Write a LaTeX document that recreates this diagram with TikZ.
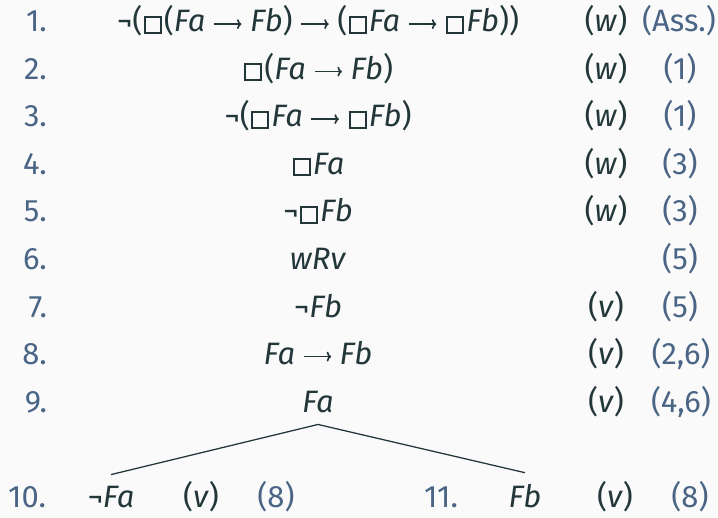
\documentclass[tikz,border=0pt]{standalone}
\usepackage{fontspec}
\setmainfont{Fira Sans}
\usepackage{tikz}
\usetikzlibrary{positioning,calc,arrows.meta}
\usepackage{xcolor}

\definecolor{bgcol}{HTML}{FAFAFA}
\definecolor{txtcol}{HTML}{23373B}
\definecolor{numcol}{HTML}{4A6585}

% necessity box and implication arrow
\newcommand{\bx}{\kern1pt{\setlength{\fboxsep}{0pt}\setlength{\fboxrule}{1.3pt}\fbox{\rule{0pt}{10.2pt}\rule{10.2pt}{0pt}}}\kern1.5pt}
\newcommand{\imp}{\hspace{5.5pt}\tikz[x=1pt,y=1pt,baseline=0pt]\draw[txtcol,line width=1.2pt,-{To[length=3.2pt,width=7pt]}] (0,5.6)--(19.5,5.6);\hspace{5.5pt}}
\newcommand{\nt}{¬}
\newcommand{\wld}[1]{(\textit{#1})}

\tikzset{
  lnum/.style={anchor=base east, text=numcol, inner sep=2pt},
  fml/.style={anchor=base, text=txtcol, inner sep=2pt},
  wrl/.style={anchor=base, text=txtcol, inner sep=2pt},
  just/.style={anchor=base, text=numcol, inner sep=2pt},
  branch/.style={draw=txtcol, line width=0.9pt}
}

\begin{document}
\begin{tikzpicture}[x=0.025cm, y=-0.025cm, font=\fontsize{22}{26}\selectfont]
  \fill[bgcol] (0,0) rectangle (718,518);
  \useasboundingbox (0,0) rectangle (718,518);
  % trunk
  \node[lnum] (n1) at (50,32) {1.};
  \node[fml] (f1) at (318,32) {\nt(\bx(\textit{Fa}\imp\textit{Fb})\imp(\bx\textit{Fa}\imp\bx\textit{Fb}))};
  \node[wrl] (w1) at (606,32) {\wld{w}};
  \node[just] (j1) at (679,32) {(Ass.)};
  \node[lnum] (n2) at (50,79.5) {2.};
  \node[fml] (f2) at (318,79.5) {\bx(\textit{Fa}\imp\textit{Fb})};
  \node[wrl] (w2) at (606,79.5) {\wld{w}};
  \node[just] (j2) at (680,79.5) {(1)};
  \node[lnum] (n3) at (50,127) {3.};
  \node[fml] (f3) at (318,127) {\nt(\bx\textit{Fa}\imp\bx\textit{Fb})};
  \node[wrl] (w3) at (606,127) {\wld{w}};
  \node[just] (j3) at (680,127) {(1)};
  \node[lnum] (n4) at (50,174.5) {4.};
  \node[fml] (f4) at (318,174.5) {\bx\textit{Fa}};
  \node[wrl] (w4) at (606,174.5) {\wld{w}};
  \node[just] (j4) at (680,174.5) {(3)};
  \node[lnum] (n5) at (50,222) {5.};
  \node[fml] (f5) at (318,222) {\nt\bx\textit{Fb}};
  \node[wrl] (w5) at (606,222) {\wld{w}};
  \node[just] (j5) at (680,222) {(3)};
  \node[lnum] (n6) at (50,269.5) {6.};
  \node[fml] (f6) at (318,269.5) {\textit{wRv}};
  \node[just] (j6) at (680,269.5) {(5)};
  \node[lnum] (n7) at (50,317) {7.};
  \node[fml] (f7) at (318,317) {\nt\textit{Fb}};
  \node[wrl] (w7) at (606,317) {\wld{v}};
  \node[just] (j7) at (680,317) {(5)};
  \node[lnum] (n8) at (50,364.5) {8.};
  \node[fml] (f8) at (318,364.5) {\textit{Fa}\imp\textit{Fb}};
  \node[wrl] (w8) at (606,364.5) {\wld{v}};
  \node[just] (j8) at (681,364.5) {(2,6)};
  \node[lnum] (n9) at (50,412) {9.};
  \node[fml] (f9) at (318,412) {\textit{Fa}};
  \node[wrl] (w9) at (606,412) {\wld{v}};
  \node[just] (j9) at (681,412) {(4,6)};
  % branches
  \node[lnum] (n10) at (49,507) {10.};
  \node[fml] (f10) at (111,507) {\nt\textit{Fa}};
  \node[wrl] (w10) at (201,507) {\wld{v}};
  \node[just] (j10) at (276,507) {(8)};
  \node[lnum] (n11) at (461,507) {11.};
  \node[fml] (f11) at (525,507) {\textit{Fb}};
  \node[wrl] (w11) at (615,507) {\wld{v}};
  \node[just] (j11) at (690,507) {(8)};
  \coordinate (top) at ($(f9.south)+(0,9)$);
  \draw[branch] (top) -- ($(f10.north)+(0,-8)$);
  \draw[branch] (top) -- ($(f11.north)+(0,-8)$);
\end{tikzpicture}
\end{document}
